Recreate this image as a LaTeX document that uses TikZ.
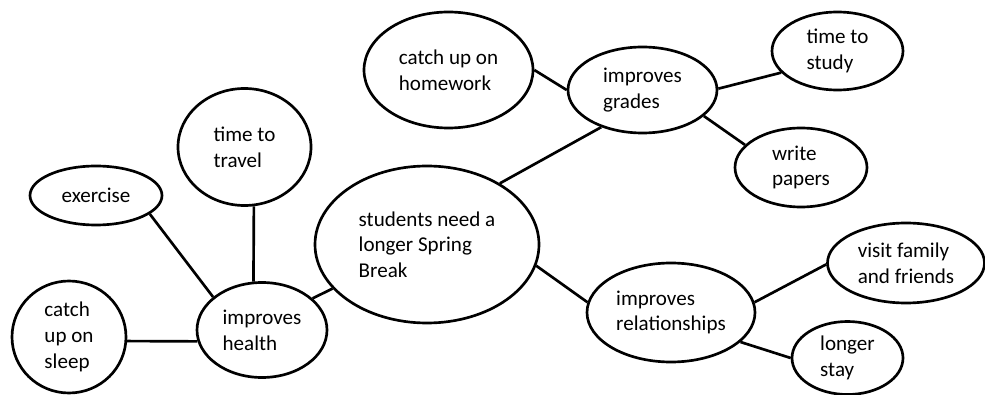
\documentclass[tikz,border=0pt]{standalone}
\usepackage{fontspec}
\setmainfont{Carlito}
\usetikzlibrary{shapes.geometric}

\begin{document}
\begin{tikzpicture}[x=0.75pt,y=-0.75pt,
      bubble/.style 2 args={draw,ellipse,line width=2pt,inner sep=0pt,align=left,
        font=\fontsize{15.8}{19.3}\selectfont,
        minimum width=#1*0.75pt,minimum height=#2*0.75pt},
      link/.style={line width=2pt}]
    \useasboundingbox (0,0) rectangle (985,395);
    % center
    \node[bubble={224}{157}] (main) at (427,244.5) {students need a\\longer Spring\\Break};
    % health
    \node[bubble={130}{95}] (health) at (262,330) {improves\\health};
    \node[bubble={132}{59}] (exercise) at (96,195.5) {exercise};
    \node[bubble={133}{117}] (travel) at (244.5,147) {time to\\travel};
    \node[bubble={114}{112}] (sleep) at (69,337) {catch\\up on\\sleep};
    % grades
    \node[bubble={149}{86}] (grades) at (642.5,90) {improves\\grades};
    \node[bubble={169}{116}] (homework) at (448.5,70) {catch up on\\homework};
    \node[bubble={131}{78}] (study) at (837.5,51) {time to\\study};
    \node[bubble={132}{79}] (papers) at (801,167.5) {write\\papers};
    % relationships
    \node[bubble={168}{99}] (relations) at (671,312.5) {improves\\relationships};
    \node[bubble={157}{80}] (family) at (906,263) {visit family\\and friends};
    \node[bubble={111}{73}] (stay) at (847.5,358) {longer\\stay};

    \draw[link] (exercise.-19) -- (health.146);
    \draw[link] (travel.-81) -- (health.100);
    \draw[link] (sleep.-4) -- (health.190);
    \draw[link] (health.32) -- (main.205);
    \draw[link] (main.40) -- (grades.222);
    \draw[link] (homework.0) -- (grades.180);
    \draw[link] (grades.1) -- (study.201);
    \draw[link] (grades.-23) -- (papers.158);
    \draw[link] (main.-11) -- (relations.173);
    \draw[link] (relations.7) -- (family.181);
    \draw[link] (relations.-23) -- (stay.180);
\end{tikzpicture}
\end{document}
